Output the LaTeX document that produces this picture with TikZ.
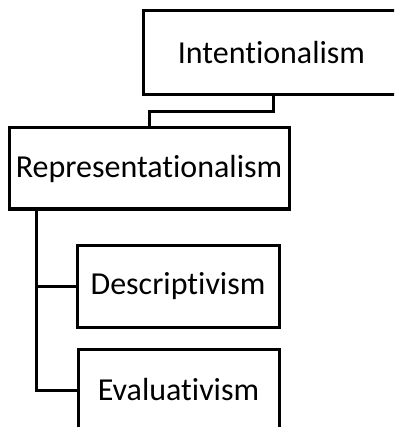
\documentclass[tikz,border=0pt]{standalone}
\usepackage{fontspec}
\setmainfont[Ligatures={NoCommon}]{Carlito}
\usetikzlibrary{positioning}
\tikzset{
  box/.style={draw, line width=3pt, inner sep=0pt,
    font=\fontsize{32}{38}\selectfont},
  wire/.style={line width=3pt}
}

\begin{document}
\begin{tikzpicture}[x=1pt,y=1pt]
  \useasboundingbox (0,0) rectangle (394,-427);
  \clip (0,0) rectangle (394,-427);
  \node[box, draw=none, minimum width=262pt, minimum height=81pt, anchor=west] (int) at (143,-52.5) {\hspace*{-8pt}Intentionalism};
  \draw[wire] (int.north east) -- (int.north west) -- (int.south west) -- (int.south east);
  \node[box, minimum width=280pt, minimum height=81pt] (rep) at (149,-168.5) {Representationalism};
  \node[box, minimum width=202pt, minimum height=82pt] (des) at (178,-286) {Descriptivism};
  \node[box, minimum width=201pt, minimum height=82pt] (eva) at (178.5,-390) {Evaluativism};
  % links
  \draw[wire] ([xshift=-2pt]int.south) -- ++(0,-17) -| (rep.north);
  \coordinate (trunk) at ([xshift=29pt]rep.south west);
  \draw[wire] (trunk) |- (des.west);
  \draw[wire] (trunk) |- (eva.west);
\end{tikzpicture}
\end{document}
